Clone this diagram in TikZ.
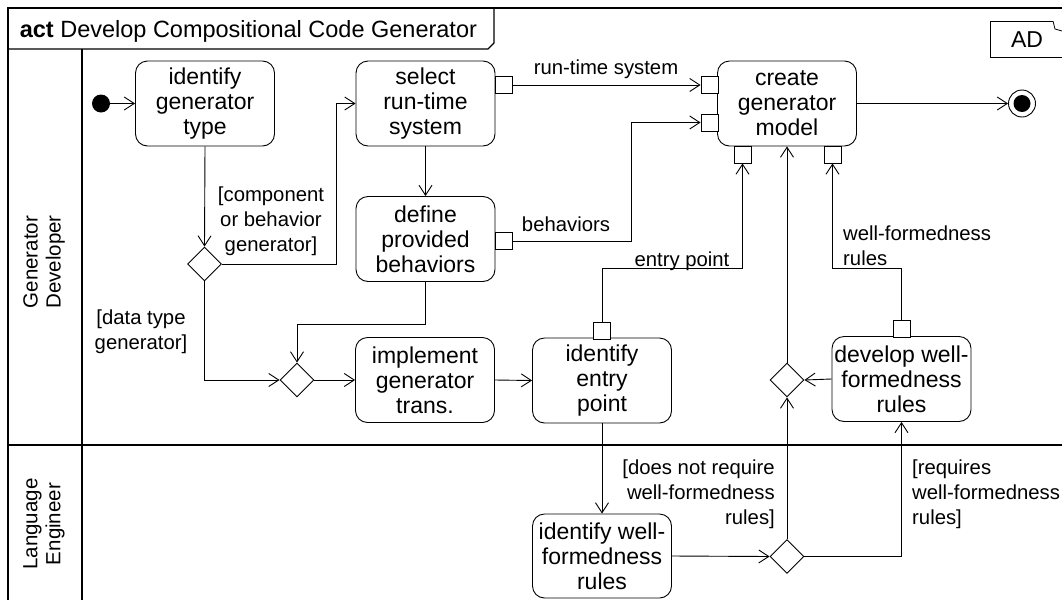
\documentclass[tikz,border=0pt]{standalone}
\usepackage{fontspec}
\setmainfont{Liberation Sans}
\usetikzlibrary{positioning,calc,shapes.geometric,arrows.meta}

\tikzset{
  action/.style={draw, rounded corners=12pt, minimum width=139pt, minimum height=85pt, align=center, inner sep=1pt, line width=0.9pt, font=\fontsize{23}{25}\selectfont},
  pinbox/.style={draw, fill=white, minimum size=17pt, inner sep=0pt, line width=0.9pt},
  decision/.style={draw, diamond, aspect=1, minimum width=34pt, minimum height=34pt, inner sep=0pt, line width=0.9pt},
  flow/.style={-{Straight Barb[length=10pt,width=13pt]}, line width=0.9pt},
  guard/.style={inner sep=0pt, font=\fontsize{20.3}{25}\selectfont},
  lane/.style={line width=2.4pt},
}

\begin{document}
\begin{tikzpicture}[x=1pt,y=-1pt]

\useasboundingbox (0,0) rectangle (1062,600);

% Frame, title tab and swimlanes
\draw[line width=1.4pt] (8,600) -- (8,8) -- (1062,8);
\draw[line width=1.2pt] (8,49) -- (488,49) -- (494,43) -- (494,8);
\node[anchor=west, inner sep=0pt, font=\fontsize{23.5}{25}\selectfont] (title) at (19.6,31) {\textbf{act} Develop Compositional Code Generator};
\draw[lane] (82,49) -- (82,600);
\draw[lane] (8,445) -- (1062,445);
\node[rotate=90, align=center, font=\fontsize{20.5}{23}\selectfont] (devlane) at (44,262) {Generator\\Developer};
\node[rotate=90, align=center, font=\fontsize{20.5}{23}\selectfont] (englane) at (44,524) {Language\\Engineer};

% AD note
\draw[line width=1pt] (1053,21) -- (990,21) -- (990,57) -- (1062,57);
\draw[line width=0.8pt] (1053,21) -- (1055,29) -- (1062,31);
\node[font=\fontsize{23}{25}\selectfont] (ad) at (1027,40) {AD};

% Actions
\node[action] (gentype) at (205,103.5) {identify\\generator\\type};
\node[action] (select) at (425.5,103.5) {select\\run-time\\system};
\node[action] (create) at (787,103.5) {create\\generator\\model};
\node[action] (define) at (425.5,239) {define\\provided\\behaviors};
\node[action] (implement) at (425,380) {implement\\generator\\trans.};
\node[action] (entry) at (602,380.5) {identify\\entry\\point};
\node[action] (devwf) at (901.5,379) {develop well-\\formedness\\rules};
\node[action, minimum height=84pt] (idwf) at (602,556) {identify well-\\formedness\\rules};

% Pins
\node[pinbox] (selpin) at (503.5,85) {};
\node[pinbox] (defpin) at (503.5,241) {};
\node[pinbox] (crpinA) at (709.5,85) {};
\node[pinbox] (crpinB) at (709.5,122.5) {};
\node[pinbox] (crpinC) at (742.5,154.5) {};
\node[pinbox] (crpinD) at (832.5,154.5) {};
\node[pinbox] (entpin) at (602,330.5) {};
\node[pinbox] (devpin) at (901.5,328.8) {};

% Initial, final and decision nodes
\node[circle, fill=black, minimum size=18pt, inner sep=0pt] (start) at (101,103.5) {};
\node[circle, draw, line width=0.9pt, minimum size=27pt, inner sep=0pt] (stop) at (1022,103.5) {};
\node[circle, fill=black, minimum size=17pt, inner sep=0pt] (stopdot) at (stop) {};
\node[decision] (dtype) at (204.5,264) {};
\node[decision] (dmerge) at (297,380) {};
\node[decision] (dwf) at (787,380) {};
\node[decision] (dreq) at (787,556.5) {};

% Control flows
\draw[flow] (start) -- (gentype.west);
\draw[flow] (gentype.south) -- (dtype.north);
\draw[flow] (dtype.east) -- ++(114.5,0) |- (select.west);
\draw[flow] (select.south) -- (define.north);
\draw[flow] (define.south) -- ++(0,42) -| (dmerge.north);
\draw[flow] (dtype.south) |- (dmerge.west);
\draw[flow] (dmerge.east) -- (implement.west);
\draw[flow] (implement.east) -- (entry.west);
\draw[flow] (devwf.west) -- (dwf.east);
\draw[flow] (dwf.north) -- (create.south);
\draw[flow] (entry.south) -- (idwf.north);
\draw[flow] (idwf.east) -- (dreq.west);
\draw[flow] (dreq.north) -- (dwf.south);
\draw[flow] (dreq.east) -| (devwf.south);
\draw[flow] (create.east) -- (stop.west);

% Object flows
\draw[flow] (selpin.east) -- (crpinA.west);
\draw[flow] (defpin.east) -- ++(118.5,0) |- (crpinB.west);
\draw[flow] (entpin.north) -- ++(0,-53.5) -| (crpinC.south);
\draw[flow] (devpin.north) -- ++(0,-51.8) -| (crpinD.south);

% Labels
\node[guard, align=center] (gcomp) at (271,221) {[component\\or behavior\\generator]};
\node[guard, align=center] (gdata) at (141,332) {[data type\\generator]};
\node[guard, align=right, anchor=east] (gnot) at (775,494) {[does not require\\well-formedness\\rules]};
\node[guard, align=left, anchor=west] (greq) at (912,494) {[requires\\well-formedness\\rules]};
\node[guard] (lrts) at (606,69) {run-time system};
\node[guard] (lbeh) at (566,224) {behaviors};
\node[guard] (lentry) at (682,261) {entry point};
\node[guard, align=left, anchor=west] (lwf) at (843,246) {well-formedness\\rules};

\end{tikzpicture}
\end{document}
